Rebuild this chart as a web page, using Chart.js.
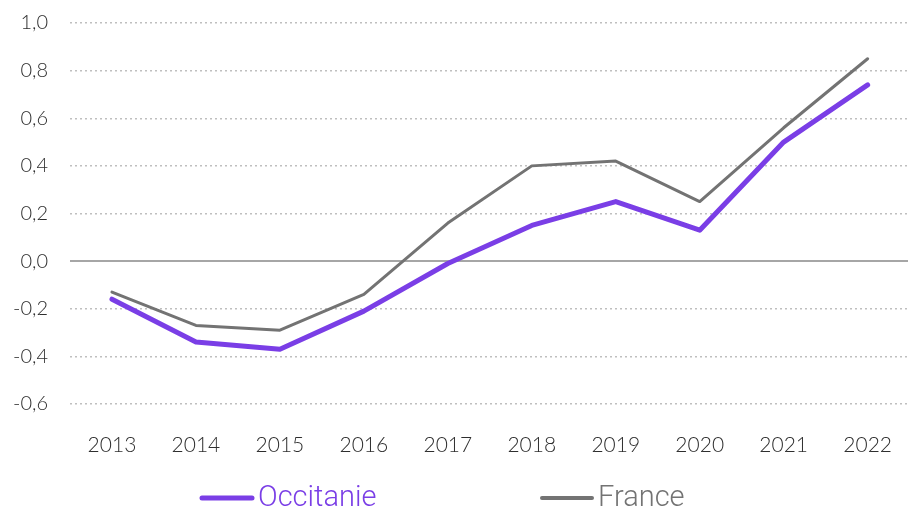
<!DOCTYPE html>
<html>
<head>
<meta charset="utf-8">
<script src="https://cdn.jsdelivr.net/npm/chart.js@4/dist/chart.umd.min.js"></script>
<style>
  html, body { margin: 0; padding: 0; background: #fff; overflow: hidden; }
  /* le tracé déborde légèrement à droite, comme l'original */
  #wrap { width: 913px; height: 512px; position: relative; }
</style>
</head>
<body>
<div id="wrap"><canvas id="chart"></canvas></div>
<script>
// Données
const annees = ['2013', '2014', '2015', '2016', '2017', '2018', '2019', '2020', '2021', '2022'];
const occitanie = [-0.16, -0.34, -0.37, -0.21, -0.01, 0.15, 0.25, 0.13, 0.50, 0.74];
const france = [-0.13, -0.27, -0.29, -0.14, 0.16, 0.40, 0.42, 0.25, 0.56, 0.85];
const yTicks = [-0.6, -0.4, -0.2, 0.0, 0.2, 0.4, 0.6, 0.8, 1.0];

const violet = '#7a3ee6';
const gris = '#737373';
const policeY = { family: 'Lato, "DejaVu Sans", sans-serif', size: 20, weight: '300' };
const policeX = { family: 'Lato, "DejaVu Sans", sans-serif', size: 21, weight: '300' };

// Légende dessinée à la main (espacement large comme l'original)
const legendePlugin = {
    id: 'legende',
    afterDraw(chart) {
        const ctx = chart.ctx;
        const y = 498;
        const items = [
            { x: 200, ds: chart.data.datasets[0], epaisseur: 5 },
            { x: 540, ds: chart.data.datasets[1], epaisseur: 4 }
        ];
        ctx.save();
        ctx.font = '300 29px Roboto, "Liberation Sans Narrow", sans-serif';
        ctx.textBaseline = 'middle';
        items.forEach(it => {
            ctx.strokeStyle = it.ds.borderColor;
            ctx.lineWidth = it.epaisseur;
            ctx.lineCap = 'round';
            ctx.beginPath();
            ctx.moveTo(it.x + 2, y);
            ctx.lineTo(it.x + 52, y);
            ctx.stroke();
            ctx.fillStyle = it.ds.borderColor;
            ctx.fillText(it.ds.label, it.x + 58, y + 1);
        });
        ctx.restore();
    }
};

new Chart(document.getElementById('chart'), {
    type: 'line',
    data: {
        labels: annees,
        datasets: [
            {
                label: 'Occitanie',
                data: occitanie,
                borderColor: violet,
                backgroundColor: violet,
                borderWidth: 5,
                pointRadius: 0,
                tension: 0,
                borderJoinStyle: 'round',
                borderCapStyle: 'round'
            },
            {
                label: 'France',
                data: france,
                borderColor: gris,
                backgroundColor: gris,
                borderWidth: 3,
                pointRadius: 0,
                tension: 0,
                borderJoinStyle: 'round',
                borderCapStyle: 'round'
            }
        ]
    },
    options: {
        responsive: true,
        maintainAspectRatio: false,
        animation: false,
        layout: { padding: { top: 23, right: 0, bottom: 40, left: 0 } },
        plugins: {
            legend: { display: false },
            tooltip: { enabled: false }
        },
        scales: {
            x: {
                offset: true,
                grid: { display: false },
                border: { display: false },
                afterFit(scale) {
                    scale.height = 68;
                },
                ticks: {
                    color: '#2e2e2e',
                    padding: 21,
                    maxRotation: 0,
                    autoSkip: false,
                    font: policeX
                }
            },
            y: {
                min: -0.6,
                max: 1.0,
                afterBuildTicks(scale) {
                    scale.ticks = yTicks.map(v => ({ value: v }));
                },
                afterFit(scale) {
                    scale.width = 70;
                    scale.paddingTop = 0;
                    scale.paddingBottom = 0;
                },
                border: {
                    display: false,
                    dash: ctx => (ctx.tick && Math.abs(ctx.tick.value) < 1e-9) ? [] : [2, 3]
                },
                grid: {
                    drawTicks: false,
                    color: ctx => (ctx.tick && Math.abs(ctx.tick.value) < 1e-9) ? '#a6a6a6' : '#bfbfbf',
                    lineWidth: ctx => (ctx.tick && Math.abs(ctx.tick.value) < 1e-9) ? 2 : 1.5
                },
                ticks: {
                    color: '#2e2e2e',
                    padding: 22,
                    font: policeY,
                    callback: v => v.toFixed(1).replace('.', ',')
                }
            }
        }
    },
    plugins: [legendePlugin]
});
</script>
</body>
</html>
